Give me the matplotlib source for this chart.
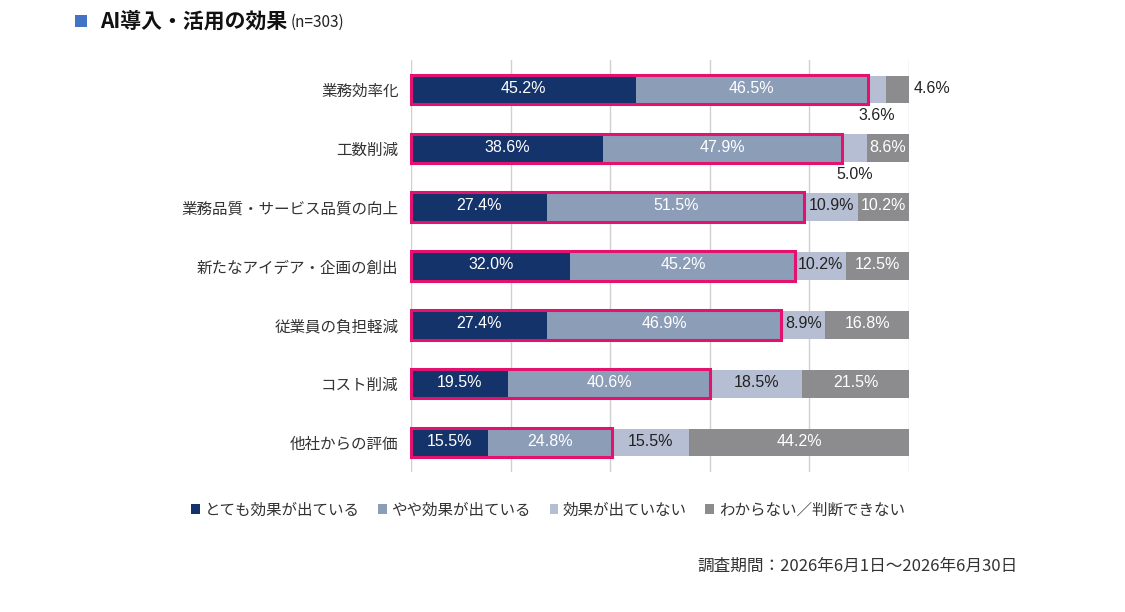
import matplotlib
matplotlib.use("Agg")
import matplotlib.pyplot as plt
from matplotlib.patches import Rectangle, Patch
import numpy as np

plt.rcParams['font.family'] = ['Noto Sans CJK JP', 'DejaVu Sans']

categories = ["業務効率化", "工数削減", "業務品質・サービス品質の向上", "新たなアイデア・企画の創出",
              "従業員の負担軽減", "コスト削減", "他社からの評価"]
series_names = ["とても効果が出ている", "やや効果が出ている", "効果が出ていない", "わからない／判断できない"]
very = [45.2, 38.6, 27.4, 32.0, 27.4, 19.5, 15.5]
some = [46.5, 47.9, 51.5, 45.2, 46.9, 40.6, 24.8]
none_ = [3.6, 5.0, 10.9, 10.2, 8.9, 18.5, 15.5]
unknown = [4.6, 8.6, 10.2, 12.5, 16.8, 21.5, 44.2]

colors = ["#15336b", "#8c9db8", "#b6bed3", "#8c8b8d"]
text_colors = ["white", "white", "#222222", "white"]
pink = "#e3126f"
num_font = ['Liberation Sans', 'DejaVu Sans']

fig = plt.figure(figsize=(11.25, 6.12), dpi=100)
ax = fig.add_axes([411/1125, 1-472/612, 498/1125, 412/612])

data = [very, some, none_, unknown]
y = np.arange(len(categories))
bh = 0.47
left = np.zeros(len(categories))
for si, vals in enumerate(data):
    vals = np.array(vals)
    ax.barh(y, vals, left=left, height=bh, color=colors[si], zorder=2, label=series_names[si])
    for i, v in enumerate(vals):
        cx = left[i] + v / 2
        cy = y[i] - 0.02
        ha = 'center'
        tc = text_colors[si]
        if i == 0 and si == 2:
            cy = y[i] + 0.45
            tc = "#222222"
        elif i == 0 and si == 3:
            cx = 101.0
            ha = 'left'
            tc = "#222222"
        elif i == 1 and si == 2:
            cy = y[i] + 0.45
            tc = "#222222"
        ax.text(cx, cy, f"{v:.1f}%", ha=ha, va='center', color=tc, fontsize=11.5,
                family=num_font, zorder=4)
    left = left + vals

# pink outline for top-2 sums
for i in range(len(categories)):
    s = very[i] + some[i]
    ax.add_patch(Rectangle((0, y[i] - bh/2 - 0.015), s, bh + 0.03, fill=False,
                           edgecolor=pink, linewidth=2.2, zorder=3, clip_on=False))

ax.set_xlim(0, 100)
ax.set_ylim(len(categories) - 0.5, -0.5)
ax.set_xticks([0, 20, 40, 60, 80, 100])
ax.xaxis.grid(True, color="#d0d0d0", linewidth=1, zorder=0)
ax.set_axisbelow(True)
ax.tick_params(axis='x', length=0, labelbottom=False)
ax.tick_params(axis='y', length=0, pad=9)
ax.set_yticks(y)
ax.set_yticklabels(categories, fontsize=11.2, color="#333333")
for sp in ax.spines.values():
    sp.set_visible(False)

# title
fig.patches.append(Rectangle((75/1125, 1-27/612), 12/1125, 12/612, transform=fig.transFigure,
                             facecolor="#4472c4", edgecolor='none'))
fig.text(100/1125, 1-21/612, "AI導入・活用の効果", fontsize=15, fontweight='bold',
         va='center', ha='left', color="#111111")
fig.text(291/1125, 1-22/612, "(n=303)", fontsize=11, va='center', ha='left', color="#222222")

# legend
handles = [Patch(facecolor=c, edgecolor='none') for c in colors]
fig.legend(handles, series_names, loc='center', bbox_to_anchor=(548/1125, 1-510/612),
           ncol=4, frameon=False, fontsize=11.2, handlelength=0.55, handleheight=0.55,
           handletextpad=0.3, columnspacing=1.2, labelcolor="#333333")

fig.text(1018/1125, 1-566/612, "調査期間：2026年6月1日～2026年6月30日", fontsize=12,
         ha='right', va='center', color="#333333")

fig.savefig("out.png", dpi=100)
